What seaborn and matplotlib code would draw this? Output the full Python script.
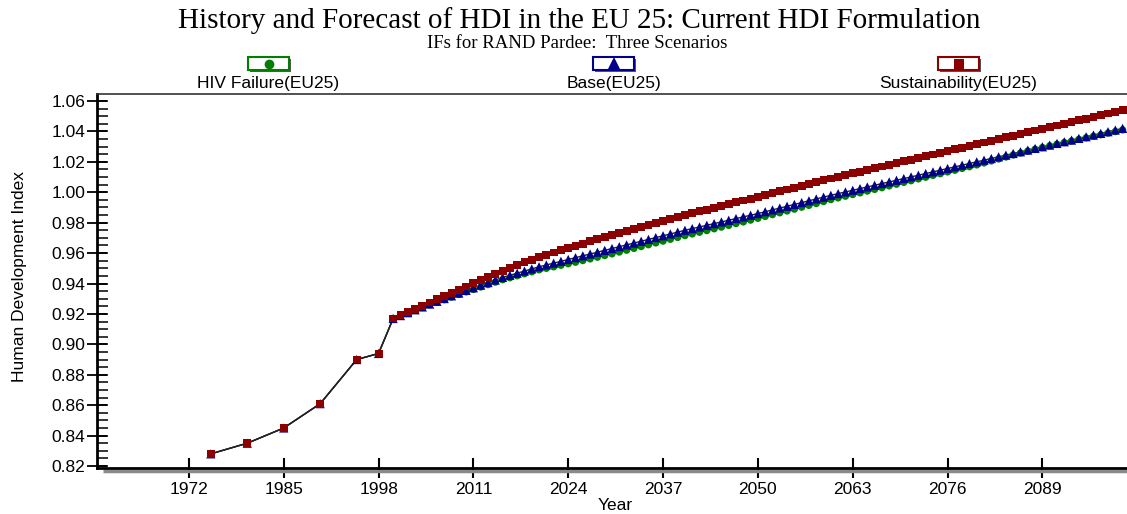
import numpy as np
import pandas as pd
import seaborn as sns
import matplotlib.pyplot as plt
import matplotlib.transforms as mtransforms
from matplotlib.patches import Rectangle
from matplotlib.lines import Line2D
from matplotlib.ticker import MultipleLocator, FormatStrFormatter

sns.set_style('ticks')
plt.rcParams['font.family'] = ['Liberation Sans', 'DejaVu Sans']
plt.rcParams['text.color'] = 'black'
plt.rcParams['xtick.color'] = 'black'
plt.rcParams['ytick.color'] = 'black'

# history (same for all scenarios)
hist_years = [1975, 1980, 1985, 1990, 1995, 1998]
hist_hdi = [0.828, 0.835, 0.845, 0.861, 0.890, 0.894]

# forecast, one value per year 2000-2100
fc_years = list(range(2000, 2101))
hiv_failure = [
    0.9170, 0.9188, 0.9206, 0.9224, 0.9242, 0.9260,
    0.9277, 0.9294, 0.9311, 0.9328, 0.9345,
    0.9361, 0.9377, 0.9393, 0.9409, 0.9425,
    0.9438, 0.9451, 0.9464, 0.9477, 0.9490,
    0.9500, 0.9510, 0.9520, 0.9530, 0.9540,
    0.9551, 0.9562, 0.9573, 0.9584, 0.9595,
    0.9607, 0.9619, 0.9631, 0.9643, 0.9655, 0.9667, 0.9679, 0.9691, 0.9703, 0.9715,
    0.9726, 0.9737, 0.9748, 0.9760, 0.9771, 0.9782, 0.9794, 0.9805, 0.9817, 0.9829,
    0.9841, 0.9853, 0.9865, 0.9877, 0.9889, 0.9902, 0.9914, 0.9926, 0.9939, 0.9952,
    0.9963, 0.9974, 0.9985, 0.9996, 1.0008, 1.0019, 1.0030, 1.0042, 1.0053, 1.0065,
    1.0076, 1.0088, 1.0099, 1.0111, 1.0122, 1.0134, 1.0145, 1.0157, 1.0168, 1.0180,
    1.0193, 1.0206, 1.0219, 1.0232, 1.0245, 1.0258, 1.0271, 1.0283, 1.0294, 1.0305,
    1.0316, 1.0327, 1.0337, 1.0348, 1.0358, 1.0368, 1.0378, 1.0389, 1.0399, 1.0410,
]
base = [
    0.9170, 0.9189, 0.9208, 0.9227, 0.9246, 0.9265,
    0.9283, 0.9301, 0.9319, 0.9337, 0.9355,
    0.9372, 0.9389, 0.9406, 0.9423, 0.9440,
    0.9454, 0.9468, 0.9482, 0.9496, 0.9510,
    0.9522, 0.9534, 0.9546, 0.9558, 0.9570,
    0.9582, 0.9594, 0.9606, 0.9618, 0.9630,
    0.9642, 0.9654, 0.9666, 0.9678, 0.9690, 0.9702, 0.9714, 0.9726, 0.9738, 0.9750,
    0.9761, 0.9772, 0.9783, 0.9794, 0.9805, 0.9816, 0.9827, 0.9838, 0.9849, 0.9860,
    0.9872, 0.9884, 0.9896, 0.9908, 0.9920, 0.9932, 0.9944, 0.9956, 0.9968, 0.9980,
    0.9991, 1.0002, 1.0013, 1.0024, 1.0035, 1.0046, 1.0057, 1.0068, 1.0079, 1.0090,
    1.0101, 1.0112, 1.0123, 1.0134, 1.0145, 1.0156, 1.0167, 1.0178, 1.0189, 1.0200,
    1.0211, 1.0222, 1.0233, 1.0244, 1.0255, 1.0266, 1.0277, 1.0288, 1.0299, 1.0310,
    1.0321, 1.0332, 1.0343, 1.0354, 1.0365, 1.0376, 1.0387, 1.0398, 1.0409, 1.0420,
]
sustainability = [
    0.9170, 0.9191, 0.9212, 0.9233, 0.9254, 0.9275, 0.9296, 0.9317, 0.9338, 0.9359, 0.9380,
    0.9401, 0.9422, 0.9443, 0.9464, 0.9485,
    0.9503, 0.9521, 0.9539, 0.9557, 0.9575,
    0.9590, 0.9604, 0.9619, 0.9633, 0.9648, 0.9662, 0.9677, 0.9691, 0.9706, 0.9720,
    0.9733, 0.9746, 0.9759, 0.9772, 0.9785, 0.9798, 0.9811, 0.9824, 0.9837, 0.9850,
    0.9862, 0.9874, 0.9886, 0.9898, 0.9910, 0.9922, 0.9934, 0.9946, 0.9958, 0.9970,
    0.9982, 0.9994, 1.0006, 1.0018, 1.0030, 1.0042, 1.0054, 1.0066, 1.0078, 1.0090,
    1.0101, 1.0113, 1.0124, 1.0135, 1.0147, 1.0158, 1.0169, 1.0180, 1.0192, 1.0203,
    1.0214, 1.0226, 1.0237, 1.0248, 1.0259, 1.0271, 1.0282, 1.0293, 1.0304, 1.0316,
    1.0327, 1.0338, 1.0349, 1.0361, 1.0372, 1.0383, 1.0394, 1.0406, 1.0417, 1.0428,
    1.0439, 1.0451, 1.0462, 1.0473, 1.0484, 1.0496, 1.0507, 1.0518, 1.0529, 1.0540,
]

scenarios = ['HIV Failure(EU25)', 'Base(EU25)', 'Sustainability(EU25)']
series = [hiv_failure, base, sustainability]
colors = {'HIV Failure(EU25)': '#008000', 'Base(EU25)': '#00008b', 'Sustainability(EU25)': '#8b0000'}
markers = {'HIV Failure(EU25)': 'o', 'Base(EU25)': '^', 'Sustainability(EU25)': 's'}
msizes = {'HIV Failure(EU25)': 28, 'Base(EU25)': 44, 'Sustainability(EU25)': 32}

rows = []
for name, vals in zip(scenarios, series):
    for y, v in zip(hist_years + fc_years, hist_hdi + vals):
        rows.append((name, y, v))
df = pd.DataFrame(rows, columns=['Scenario', 'Year', 'HDI'])

W, H = 1127, 514
fig = plt.figure(figsize=(W / 100, H / 100), dpi=100)
ax = fig.add_axes([97 / W, 46 / H, 1030 / W, 374 / H])

sns.lineplot(data=df, x='Year', y='HDI', units='Scenario', estimator=None,
             color='#222222', lw=1, ax=ax, legend=False)
sns.scatterplot(data=df, x='Year', y='HDI', hue='Scenario', style='Scenario',
                size='Scenario', sizes=msizes, markers=markers, palette=colors,
                linewidth=0, legend=False, ax=ax, zorder=3)

ax.set_xlim(1959.4, 2100.6)
ax.set_ylim(0.8187, 1.0646)
ax.set_xticks(list(range(1972, 2090, 13)))
ax.set_yticks(np.arange(0.82, 1.0601, 0.02))
ax.yaxis.set_major_formatter(FormatStrFormatter('%.2f'))
ax.yaxis.set_minor_locator(MultipleLocator(0.005))
ax.yaxis.remove_overlapping_locs = False
ax.tick_params(axis='y', which='major', direction='inout', length=15, width=1.3,
               labelsize=12.5, pad=1)
ax.tick_params(axis='y', which='minor', direction='in', length=8, width=1.1)
ax.tick_params(axis='x', which='major', direction='inout', length=14, width=1.5,
               labelsize=12.5, pad=3)
ax.set_xlabel('')
ax.set_ylabel('')

for side in ['left', 'bottom']:
    ax.spines[side].set_linewidth(2)
    ax.spines[side].set_color('black')
ax.spines['top'].set_linewidth(1.2)
ax.spines['top'].set_color('#333333')
ax.spines['right'].set_visible(False)

# grey shadow under the x axis
shadow = mtransforms.offset_copy(ax.transAxes, fig=fig, x=0, y=-3, units='dots')
ax.plot([0.006, 1], [0, 0], transform=shadow, color='#8a8a8a', lw=2.5,
        clip_on=False, zorder=1, solid_capstyle='butt')

fig.text(20 / W, 1 - 276 / H, 'Human Development Index', rotation=90,
         ha='center', va='center', fontsize=12.5)
fig.text(615 / W, 1 - 506 / H, 'Year', ha='center', va='center', fontsize=12.5)

fig.text(579 / W, 1 - 21 / H,
         'History and Forecast of HDI in the EU 25: Current HDI Formulation',
         ha='center', va='center', fontsize=21, family=['Liberation Serif', 'DejaVu Serif'])
fig.text(577 / W, 1 - 43 / H, 'IFs for RAND Pardee:  Three Scenarios',
         ha='center', va='center', fontsize=13.5, family=['Liberation Serif', 'DejaVu Serif'])

# legend: framed marker swatches with the label underneath
legend_x = {'HIV Failure(EU25)': 248, 'Base(EU25)': 593, 'Sustainability(EU25)': 938}
for name in scenarios:
    x0 = legend_x[name]
    bw, bh, by = 41, 13, 57
    fig.add_artist(Rectangle(((x0 + 2) / W, 1 - (by + bh + 2) / H), bw / W, bh / H,
                             transform=fig.transFigure, facecolor='#555555',
                             edgecolor='none'))
    fig.add_artist(Rectangle((x0 / W, 1 - (by + bh) / H), bw / W, bh / H,
                             transform=fig.transFigure, facecolor='white',
                             edgecolor=colors[name], lw=1.5))
    ms = {'o': 7, '^': 10, 's': 7}[markers[name]]
    fig.add_artist(Line2D([(x0 + bw / 2) / W], [1 - (by + bh / 2) / H],
                          transform=fig.transFigure, marker=markers[name],
                          markersize=ms, color=colors[name], markeredgewidth=0,
                          linestyle='none'))
    fig.text((x0 + bw / 2) / W, 1 - 83.5 / H, name, ha='center', va='center', fontsize=12.5)

fig.savefig('out.png', dpi=100, facecolor='white')
